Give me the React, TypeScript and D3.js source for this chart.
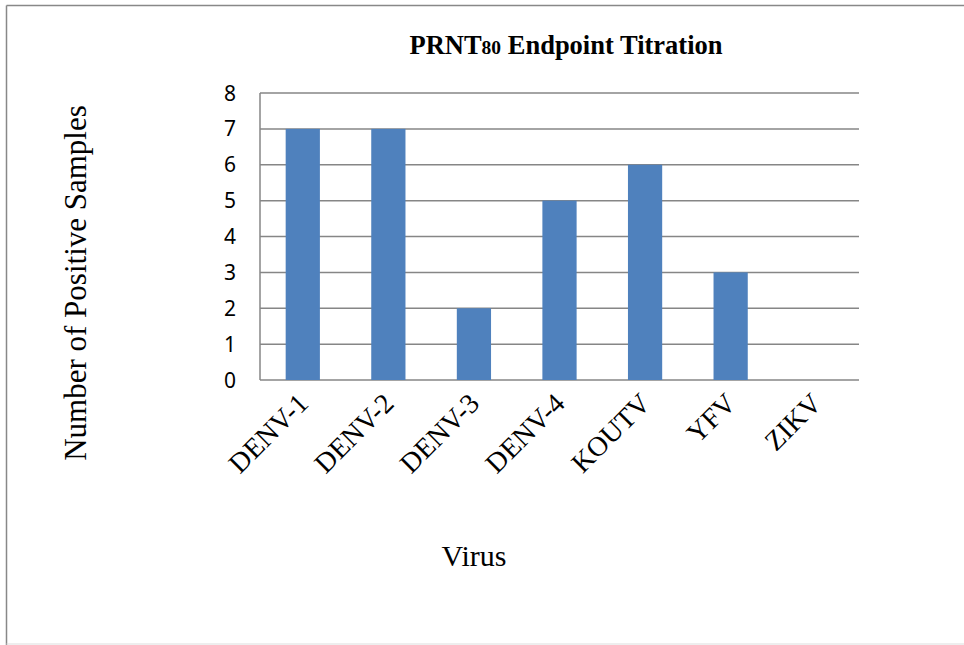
import React from "react";
import * as d3 from "d3";

const categories = ["DENV-1", "DENV-2", "DENV-3", "DENV-4", "KOUTV", "YFV", "ZIKV"];
const values = [7, 7, 2, 5, 6, 3, 0];
const yTicks = [0, 1, 2, 3, 4, 5, 6, 7, 8];

const W = 964;
const H = 645;
const plot = { left: 260, right: 859, top: 93, bottom: 380 };

export default function App() {
  const x = d3
    .scaleBand<string>()
    .domain(categories)
    .range([plot.left, plot.right])
    .paddingInner(0.6)
    .paddingOuter(0.3);
  const y = d3.scaleLinear().domain([0, 8]).range([plot.bottom, plot.top]);
  const serif = "'Liberation Serif', 'Times New Roman', serif";
  const sans = "'Noto Sans', 'Open Sans', sans-serif";

  return (
    <svg
      width={W}
      height={H}
      style={{ position: "absolute", left: 0, top: 0, background: "#fff" }}
    >
      <rect x={0} y={0} width={W} height={H} fill="#fff" />
      {/* outer frame */}
      <line x1={6.5} y1={5.5} x2={W} y2={5.5} stroke="#888" strokeWidth={1.5} />
      <line x1={6.5} y1={5.5} x2={6.5} y2={H} stroke="#888" strokeWidth={1.5} />
      <line x1={6.5} y1={644} x2={W} y2={644} stroke="#ddd" strokeWidth={1} />

      {/* gridlines */}
      {yTicks.map((t) => (
        <line
          key={"g" + t}
          x1={plot.left}
          x2={plot.right}
          y1={y(t)}
          y2={y(t)}
          stroke="#868686"
          strokeWidth={1.5}
        />
      ))}
      <line x1={plot.left} x2={plot.left} y1={plot.top} y2={plot.bottom} stroke="#868686" strokeWidth={1.5} />

      {/* bars */}
      {categories.map((c, i) => (
        <rect
          key={c}
          x={x(c)}
          y={y(values[i])}
          width={x.bandwidth()}
          height={plot.bottom - y(values[i])}
          fill="#4F81BD"
        />
      ))}

      {/* y tick labels */}
      {yTicks.map((t) => (
        <text
          key={"t" + t}
          x={236}
          y={y(t)}
          dy="0.36em"
          textAnchor="end"
          fontFamily={sans}
          fontSize={21}
          fill="#000"
        >
          {t}
        </text>
      ))}

      {/* x category labels */}
      {categories.map((c) => {
        const cx = (x(c) as number) + x.bandwidth() / 2;
        return (
          <text
            key={"l" + c}
            transform={`translate(${cx + 7},${405}) rotate(-45)`}
            textAnchor="end"
            fontFamily={serif}
            fontSize={28}
            fill="#000"
          >
            {c}
          </text>
        );
      })}

      {/* title */}
      <text x={566} y={54} textAnchor="middle" fontFamily={serif} fontWeight="bold" fontSize={26.5} fill="#000">
        PRNT<tspan fontSize={19.5}>80</tspan> Endpoint Titration
      </text>

      {/* axis titles */}
      <text
        transform={`translate(86,283) rotate(-90)`}
        textAnchor="middle"
        fontFamily={serif}
        fontSize={31}
        fill="#000"
      >
        Number of Positive  Samples
      </text>
      <text x={474} y={566} textAnchor="middle" fontFamily={serif} fontSize={30} fill="#000">
        Virus
      </text>
    </svg>
  );
}
